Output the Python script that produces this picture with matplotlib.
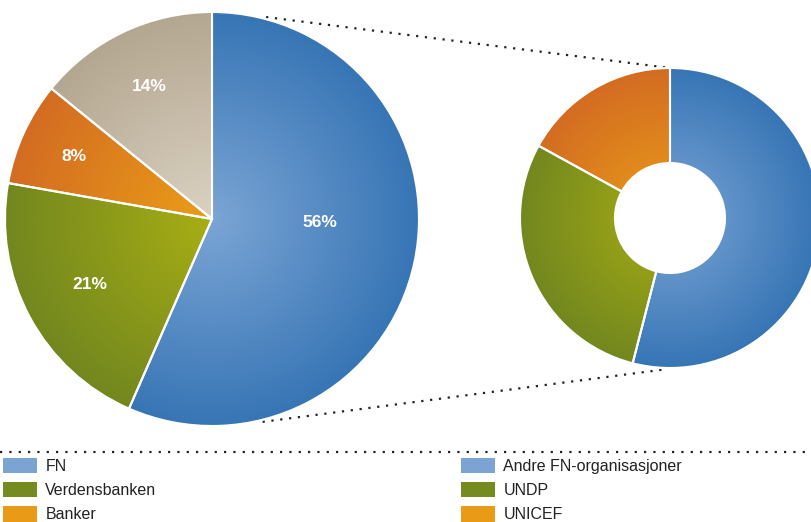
import numpy as np
import matplotlib
matplotlib.use("Agg")
import matplotlib.pyplot as plt
from matplotlib.patches import Patch
from matplotlib.colors import to_rgb

# left pie: share of total
main_labels = ["FN", "Verdensbanken", "Banker", "Andre"]
main_shares = [56, 21, 8, 14]
# right donut: breakdown of FN
fn_labels = ["Andre FN-organisasjoner", "UNDP", "UNICEF"]
fn_shares = [54, 29, 17]

# (inner, outer) gradient colours
BLUE = ("#7ba5d5", "#3775b5")
GREEN = ("#a8ae14", "#72871f")
ORANGE = ("#ea9d18", "#d36c22")
GREY = ("#dbd2c2", "#b4a791")
main_grad = [BLUE, GREEN, ORANGE, GREY]
fn_grad = [BLUE, GREEN, ORANGE]
legend_colors = ["#7ba4d4", "#758a1f", "#e99b18"]

W, H = 811, 522
fig = plt.figure(figsize=(W / 100, H / 100), dpi=100)
ax = fig.add_axes([0, 0, 1, 1])

def gradient_fill(ax, wedge, cx, cy, r, colors):
    inner = np.array(to_rgb(colors[0]))
    outer = np.array(to_rgb(colors[1]))
    xs = np.linspace(-1, 1, 400)
    X, Y = np.meshgrid(xs, xs)
    t = np.clip(np.hypot(X, Y), 0, 1)[..., None]
    img = inner * (1 - t) + outer * t
    im = ax.imshow(img, extent=(cx - r, cx + r, cy - r, cy + r), origin="lower",
                   interpolation="bilinear", zorder=1)
    im.set_clip_path(wedge)

# left pie
c1 = (212, H - 219)
r1 = 207
wedges1, _ = ax.pie(main_shares, startangle=90, counterclock=False, center=c1, radius=r1,
                    wedgeprops=dict(edgecolor="white", linewidth=1.5, facecolor="none", zorder=3))
for w, g in zip(wedges1, main_grad):
    gradient_fill(ax, w, c1[0], c1[1], r1, g)

label_dist = [0.52, 0.67, 0.73, 0.71]
label_shift = [-10, 0, 0, 0]
total = sum(main_shares)
start = 0.0
for v, d, s in zip(main_shares, label_dist, label_shift):
    mid = np.radians(start + v / total * 180 + s)
    start += v / total * 360
    ax.text(c1[0] + d * r1 * np.sin(mid), c1[1] + d * r1 * np.cos(mid), f"{v}%",
            color="white", fontsize=12.5, fontweight="bold", family="Liberation Sans",
            ha="center", va="center", zorder=5)

# right donut
c2 = (670, H - 218)
r2 = 150
wedges2, _ = ax.pie(fn_shares, startangle=90, counterclock=False, center=c2, radius=r2,
                    wedgeprops=dict(edgecolor="white", linewidth=1.5, facecolor="none",
                                    width=95, zorder=3))
for w, g in zip(wedges2, fn_grad):
    gradient_fill(ax, w, c2[0], c2[1], r2, g)

# dotted connectors
def on_circle(c, r, ang):
    a = np.radians(ang)
    return c[0] + r * np.sin(a), c[1] + r * np.cos(a)

dot = dict(color="#222222", linewidth=1.6, linestyle=(0, (1, 3)), zorder=2)
p1 = on_circle(c1, r1 * 1.01, 15)
p2 = on_circle(c2, r2, 0)
ax.plot([p1[0], p2[0]], [p1[1], p2[1]], **dot)
p1 = on_circle(c1, r1 * 1.01, 166)
p2 = on_circle(c2, r2 * 1.01, 182)
ax.plot([p1[0], p2[0]], [p1[1], p2[1]], **dot)

# separator above legend
ax.plot([0, W], [H - 452, H - 452], color="#222222", linewidth=1.6,
        linestyle=(0, (1, 3.2)), zorder=2)

ax.set_xlim(0, W)
ax.set_ylim(0, H)
ax.set_aspect("equal")
ax.axis("off")

# legends
leg_kw = dict(loc="upper left", frameon=False, handlelength=2.1,
              handleheight=1.1, handletextpad=0.55, labelspacing=0.5,
              borderpad=0, borderaxespad=0, prop={"family": "Liberation Sans", "size": 11.5})
h1 = [Patch(facecolor=c, edgecolor="none") for c in legend_colors]
leg1 = ax.legend(h1, main_labels[:3], bbox_to_anchor=(3, H - 458),
                 bbox_transform=ax.transData, **leg_kw)
for t in leg1.get_texts():
    t.set_color("#222222")
ax.add_artist(leg1)
h2 = [Patch(facecolor=c, edgecolor="none") for c in legend_colors]
leg2 = ax.legend(h2, fn_labels, bbox_to_anchor=(461, H - 458),
                 bbox_transform=ax.transData, **leg_kw)
for t in leg2.get_texts():
    t.set_color("#222222")

fig.savefig("out.png", dpi=100)
